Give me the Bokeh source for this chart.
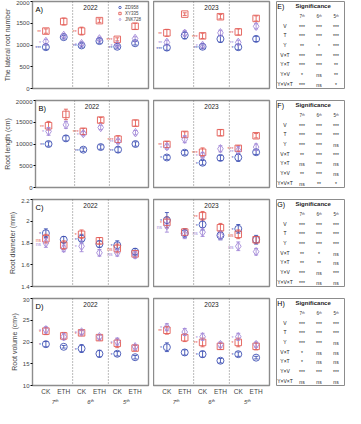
from bokeh.plotting import figure
from bokeh.layouts import column, row
from bokeh.models import (ColumnDataSource, FactorRange, Range1d, Whisker, TeeHead,
                          Span, Legend, LegendItem, LinearAxis, FixedTicker)
from bokeh.transform import dodge
from bokeh.core.properties import value
from bokeh.embed import file_html
from bokeh.resources import INLINE

FONT = "Liberation Sans"

# ---------------- data ----------------
stages = ["7ᵗʰ", "6ᵗʰ", "5ᵗʰ"]
treatments = ["CK", "ETH"]
years = ["2022", "2023"]
varieties = ["ZD958", "XY335", "JNK728"]

# order: 2022 (7CK,7ETH,6CK,6ETH,5CK,5ETH), then 2023 same
lat_zd = [950, 1180, 990, 1090, 960, 1040, 940, 1220, 960, 1140, 950, 1140]
lat_xy = [1320, 1540, 1320, 1560, 1130, 1430, 1280, 1710, 1210, 1650, 1300, 1610]
lat_jnk = [1080, 1220, 1030, 1140, 1000, 1150, 1060, 1270, 990, 1280, 1060, 1430]
lat_zd_e = [50, 40, 40, 50, 35, 40, 60, 80, 40, 80, 60, 60]
lat_xy_e = [50, 80, 90, 40, 35, 70, 80, 30, 60, 50, 70, 60]
lat_jnk_e = [50, 40, 40, 40, 30, 40, 50, 60, 40, 60, 50, 60]

len_zd = [10000, 11300, 8700, 9300, 8700, 10000, 6900, 8000, 5700, 6800, 6900, 8100]
len_xy = [14200, 16800, 12900, 15500, 11100, 14800, 9900, 12200, 8100, 12600, 9000, 11900]
len_jnk = [12900, 14400, 12400, 13800, 10600, 12600, 9400, 11100, 7400, 8900, 8500, 9300]
len_zd_e = [500, 600, 400, 500, 600, 500, 500, 500, 500, 600, 900, 500]
len_xy_e = [1000, 1200, 700, 600, 800, 700, 700, 600, 1000, 700, 600, 500]
len_jnk_e = [900, 800, 500, 500, 500, 500, 600, 800, 600, 700, 900, 700]

dia_zd = [1.89, 1.83, 1.84, 1.79, 1.78, 1.72, 2.01, 1.89, 1.97, 1.87, 1.93, 1.83]
dia_xy = [1.84, 1.78, 1.88, 1.82, 1.75, 1.70, 1.99, 1.90, 2.05, 1.94, 1.88, 1.83]
dia_jnk = [1.80, 1.75, 1.77, 1.71, 1.71, 1.69, 1.96, 1.88, 1.90, 1.87, 1.77, 1.72]
dia_zd_e = [0.04, 0.03, 0.04, 0.03, 0.04, 0.03, 0.07, 0.04, 0.05, 0.04, 0.04, 0.04]
dia_xy_e = [0.04, 0.04, 0.04, 0.03, 0.04, 0.03, 0.05, 0.03, 0.04, 0.04, 0.04, 0.03]
dia_jnk_e = [0.04, 0.03, 0.05, 0.03, 0.03, 0.03, 0.06, 0.04, 0.04, 0.04, 0.04, 0.03]

vol_zd = [19.5, 18.9, 18.5, 17.3, 17.3, 16.5, 18.8, 17.6, 17.2, 15.7, 17.2, 16.4]
vol_xy = [22.5, 21.4, 22.1, 21.0, 19.7, 18.6, 22.7, 21.0, 19.9, 19.0, 19.9, 19.0]
vol_jnk = [22.8, 21.2, 22.3, 21.2, 20.1, 18.9, 23.4, 22.3, 21.2, 19.4, 21.2, 19.4]
vol_zd_e = [0.6, 0.3, 0.9, 0.8, 0.5, 0.4, 1.0, 0.6, 0.7, 0.5, 0.5, 0.3]
vol_xy_e = [0.8, 0.8, 0.5, 0.6, 1.0, 0.6, 0.9, 0.9, 1.0, 0.7, 1.0, 0.8]
vol_jnk_e = [0.7, 0.7, 0.5, 0.5, 0.8, 0.5, 0.8, 0.8, 0.8, 0.6, 0.8, 0.6]

# CK-vs-ETH marks next to CK points: 2022 (7,6,5), then 2023 (7,6,5)
lat_mk_zd = ["***", "**", "**", "***", "**", "*"]
lat_mk_xy = ["**", "**", "***", "**", "***", "**"]
lat_mk_jnk = ["*", "*", "*", "**", "*", "**"]
len_mk_zd = ["**", "**", "**", "*", "*", "*"]
len_mk_xy = ["**", "***", "***", "**", "***", "***"]
len_mk_jnk = ["*", "*", "**", "*", "*", "**"]
dia_mk_zd = ["*", "*", "*", "*", "*", "*"]
dia_mk_xy = ["ns", "*", "ns", "*", "**", "ns"]
dia_mk_jnk = ["ns", "*", "ns", "ns", "ns", "ns"]
vol_mk_zd = ["*", "*", "*", "*", "*", "*"]
vol_mk_xy = ["*", "*", "*", "**", "**", "*"]
vol_mk_jnk = ["*", "*", "*", "*", "*", "*"]

sig_rows = ["V", "T", "Y", "V×T", "Y×T", "Y×V", "Y×V×T"]
sigE_7 = ["***", "***", "**", "***", "***", "*", "***"]
sigE_6 = ["***", "***", "*", "***", "***", "ns", "ns"]
sigE_5 = ["***", "***", "***", "***", "**", "**", "*"]
sigF_7 = ["***", "***", "***", "**", "ns", "**", "ns"]
sigF_6 = ["***", "***", "***", "***", "***", "***", "**"]
sigF_5 = ["***", "***", "ns", "***", "ns", "ns", "*"]
sigG_7 = ["***", "***", "***", "**", "**", "***", "***"]
sigG_6 = ["***", "***", "***", "*", "**", "ns", "ns"]
sigG_5 = ["***", "***", "***", "ns", "ns", "***", "ns"]
sigH_7 = ["***", "***", "***", "*", "*", "***", "ns"]
sigH_6 = ["***", "***", "***", "ns", "ns", "***", "ns"]
sigH_5 = ["***", "***", "ns", "ns", "ns", "***", "ns"]

# ---------------- style ----------------
colors = ["#4152b4", "#e35c56", "#a48ad8"]
markers = ["circle", "square", "diamond"]
msizes = [7, 6.5, 8.5]
FRAME = "#8c8c8c"
PAD = 0.25

panels = [
    dict(letter="A)", ylabel="The lateral root number", yr=(0, 2000), ticks=[0, 500, 1000, 1500, 2000],
         vals=[lat_zd, lat_xy, lat_jnk], errs=[lat_zd_e, lat_xy_e, lat_jnk_e],
         marks=[lat_mk_zd, lat_mk_xy, lat_mk_jnk], tab="E)", sig=[sigE_7, sigE_6, sigE_5]),
    dict(letter="B)", ylabel="Root length (cm)", yr=(0, 20000), ticks=[0, 5000, 10000, 15000, 20000],
         vals=[len_zd, len_xy, len_jnk], errs=[len_zd_e, len_xy_e, len_jnk_e],
         marks=[len_mk_zd, len_mk_xy, len_mk_jnk], tab="F)", sig=[sigF_7, sigF_6, sigF_5]),
    dict(letter="C)", ylabel="Root diameter (mm)", yr=(1.4, 2.2), ticks=[1.4, 1.6, 1.8, 2.0, 2.2],
         vals=[dia_zd, dia_xy, dia_jnk], errs=[dia_zd_e, dia_xy_e, dia_jnk_e],
         marks=[dia_mk_zd, dia_mk_xy, dia_mk_jnk], tab="G)", sig=[sigG_7, sigG_6, sigG_5]),
    dict(letter="D)", ylabel="Root volume (cm³)", yr=(10, 30), ticks=[10, 15, 20, 25, 30],
         vals=[vol_zd, vol_xy, vol_jnk], errs=[vol_zd_e, vol_xy_e, vol_jnk_e],
         marks=[vol_mk_zd, vol_mk_xy, vol_mk_jnk], tab="H)", sig=[sigH_7, sigH_6, sigH_5]),
]


def data_panel(pi, yi, cfg, bottom):
    factors = [(s, t) for s in stages for t in treatments]
    xr = FactorRange(factors=factors, group_padding=0.0, factor_padding=0.0,
                     range_padding=PAD, range_padding_units="absolute")
    n = len(factors)
    left = yi == 0
    p = figure(x_range=xr, y_range=Range1d(*cfg["yr"]),
               width=153 if left else 123, height=110 if bottom else 99,
               output_backend="svg", toolbar_location=None,
               x_axis_location=None,
               y_axis_location="left" if left else None,
               min_border_left=32 if left else 0, min_border_right=5 if left else 7,
               min_border_top=1, min_border_bottom=22 if bottom else 11)
    p.xgrid.visible = False
    p.ygrid.visible = False
    p.outline_line_color = FRAME
    p.outline_line_width = 1.4
    if left:
        ax = p.yaxis[0]
        ax.ticker = cfg["ticks"]
        ax.axis_label = cfg["ylabel"]
        ax.axis_label_text_font = FONT
        ax.axis_label_text_font_size = "7px"
        ax.axis_label_text_font_style = "normal"
        ax.axis_label_standoff = 2
        ax.major_label_text_font = FONT
        ax.major_label_text_font_size = "6px"
        ax.major_label_standoff = 1
        ax.major_tick_out = 2
        ax.major_tick_in = 0
        ax.minor_tick_line_color = None
        ax.axis_line_color = None
    if bottom:
        # synthetic coordinates of the factors (centre of factor i is i + 0.5)
        sub_ticks = [i + 0.5 for i in range(n)]
        sub_labels = [t for _ in stages for t in treatments]
        ax1 = LinearAxis(ticker=FixedTicker(ticks=sub_ticks),
                         major_label_overrides={tk: lb for tk, lb in zip(sub_ticks, sub_labels)},
                         major_label_text_font=FONT, major_label_text_font_size="6.5px",
                         major_label_standoff=2, major_tick_line_color=None,
                         major_tick_out=0, major_tick_in=0, minor_tick_out=0, minor_tick_in=0,
                         minor_tick_line_color=None, axis_line_color=None)
        st_ticks = [len(treatments) * (k + 0.5) for k in range(len(stages))]
        ax2 = LinearAxis(ticker=FixedTicker(ticks=st_ticks),
                         major_label_overrides={tk: lb for tk, lb in zip(st_ticks, stages)},
                         major_label_text_font=FONT, major_label_text_font_size="6px",
                         major_label_text_font_style="italic",
                         major_label_standoff=1, major_tick_line_color=None,
                         major_tick_out=0, major_tick_in=0, minor_tick_out=0, minor_tick_in=0,
                         minor_tick_line_color=None, axis_line_color=None)
        p.add_layout(ax1, "below")
        p.add_layout(ax2, "below")

    # dotted dividers between stage groups
    for k in range(1, len(stages)):
        p.add_layout(Span(location=k * len(treatments), dimension="height",
                          line_color="#555555", line_dash="1 2", line_width=0.8))

    sl = slice(6 * yi, 6 * yi + 6)
    items = []
    for vi in range(3):
        v = cfg["vals"][vi][sl]
        e = cfg["errs"][vi][sl]
        src = ColumnDataSource(dict(x=factors, y=v,
                                    upper=[a + b for a, b in zip(v, e)],
                                    lower=[a - b for a, b in zip(v, e)]))
        c = colors[vi]
        p.add_layout(Whisker(source=src, base="x", upper="upper", lower="lower",
                             dimension="height", line_color=c, line_width=0.9,
                             upper_head=TeeHead(size=4, line_color=c, line_width=0.9),
                             lower_head=TeeHead(size=4, line_color=c, line_width=0.9)))
        r = p.scatter("x", "y", source=src, marker=markers[vi], size=msizes[vi],
                      fill_color=None, line_color=c, line_width=0.9)
        items.append(LegendItem(label=varieties[vi], renderers=[r]))
        ck = [(s, "CK") for s in stages]
        msrc = ColumnDataSource(dict(x=ck, y=[v[2 * k] for k in range(3)],
                                     m=cfg["marks"][vi][3 * yi:3 * yi + 3]))
        p.text(x=dodge("x", -0.27, range=xr), y="y", text="m", source=msrc,
               text_color=c, text_align="right", text_baseline="middle",
               text_font=value(FONT), text_font_size=value("5px"), y_offset=1)

    top = cfg["yr"][1]
    p.text(x=dodge("x", -0.5, range=xr), y="y", text="t",
           source=ColumnDataSource(dict(x=[(stages[1], "ETH")], y=[top], t=[years[yi]])),
           text_align="center", text_baseline="top", y_offset=3,
           text_font=value(FONT), text_font_size=value("6.5px"), text_color="#222222")
    if left:
        p.text(x=dodge("x", -0.5 - PAD, range=xr), y="y", text="t",
               source=ColumnDataSource(dict(x=[(stages[0], "CK")], y=[top], t=[cfg["letter"]])),
               text_align="left", text_baseline="top", x_offset=3, y_offset=3,
               text_font=value(FONT), text_font_size=value("7.5px"), text_color="black")
    if pi == 0 and yi == 0:
        lg = Legend(items=items, location="top_right", label_text_font=FONT,
                    label_text_font_size="4.5px", glyph_width=7, glyph_height=6,
                    label_height=5, label_standoff=2, spacing=0, padding=1, margin=2,
                    border_line_alpha=0, background_fill_alpha=0)
        p.add_layout(lg)
    return p


def table_panel(cfg, bottom):
    cols = ["lab"] + stages
    rws = ["title", "head"] + sig_rows
    xr = FactorRange(factors=cols, range_padding=0.0)
    p = figure(x_range=xr, y_range=FactorRange(factors=rws[::-1]),
               width=69, height=110 if bottom else 99,
               output_backend="svg", toolbar_location=None,
               x_axis_location=None, y_axis_location=None,
               min_border_left=0, min_border_right=1, min_border_top=1,
               min_border_bottom=22 if bottom else 11)
    p.xgrid.visible = False
    p.ygrid.visible = False
    p.outline_line_color = FRAME
    p.outline_line_width = 1.0
    p.text(x=["lab"] * len(sig_rows), y=sig_rows, text=sig_rows, text_align="center",
           text_baseline="middle", text_font=value(FONT), text_font_size=value("5px"),
           text_color="#222222")
    for k, s in enumerate(stages):
        p.text(x=[s] * len(sig_rows), y=sig_rows, text=cfg["sig"][k], text_align="center",
               text_baseline="middle", text_font=value(FONT), text_font_size=value("5px"),
               text_color="#222222", y_offset=1)
    p.text(x=stages, y=["head"] * 3, text=stages, text_align="center",
           text_baseline="middle", text_font=value(FONT), text_font_size=value("4.5px"),
           text_color="#333333")
    p.text(x=dodge("x", -0.35, range=xr), y="y", text="t",
           source=ColumnDataSource(dict(x=[stages[1]], y=["title"], t=["Significance"])),
           text_align="center", text_baseline="middle", text_font=value(FONT),
           text_font_size=value("6px"), text_font_style="bold", text_color="#222222")
    p.text(x=dodge("x", -0.45, range=xr), y="y", text="t",
           source=ColumnDataSource(dict(x=["lab"], y=["title"], t=[cfg["tab"]])),
           text_align="left", text_baseline="middle", text_font=value(FONT),
           text_font_size=value("7px"), text_color="black")
    return p


rows = []
for pi, cfg in enumerate(panels):
    bottom = pi == len(panels) - 1
    rows.append(row(data_panel(pi, 0, cfg, bottom), data_panel(pi, 1, cfg, bottom),
                    table_panel(cfg, bottom)))

layout = column(*rows)
open("out.html", "w").write(file_html(layout, INLINE))
